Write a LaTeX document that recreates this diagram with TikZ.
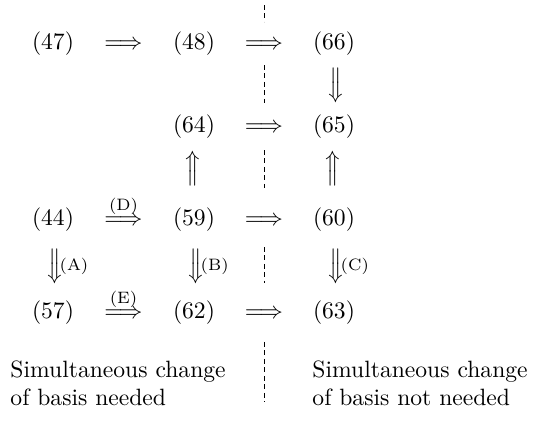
\documentclass[tikz,border=0pt]{standalone}
\usepackage{graphicx}
\begin{document}
\begin{tikzpicture}[x=0.4237pt,y=-0.4237pt,
  eq/.style={inner sep=0pt},
  harr/.style={inner sep=0pt,anchor=base},
  varr/.style={inner sep=0pt},
  lab/.style={inner sep=0.6pt,font=\scriptsize},
  sep/.style={dash pattern=on 2pt off 1.6pt,line width=0.4pt},
  txt/.style={inner sep=0pt,align=left,anchor=north west}]
\useasboundingbox (0,0) rectangle (546,424);
% equation nodes
\node[eq] (n47) at (53,44) {$(47)$};
\node[eq] (n48) at (194,44) {$(48)$};
\node[eq] (n66) at (334,44) {$(66)$};
\node[eq] (n64) at (194,127) {$(64)$};
\node[eq] (n65) at (334,127) {$(65)$};
\node[eq] (n44) at (53,220) {$(44)$};
\node[eq] (n59) at (194,220) {$(59)$};
\node[eq] (n60) at (334,220) {$(60)$};
\node[eq] (n57) at (53,313) {$(57)$};
\node[eq] (n62) at (194,313) {$(62)$};
\node[eq] (n63) at (334,313) {$(63)$};
% horizontal implications
\path (n47.base) -- node[harr] (a1) {$\Longrightarrow$} (n48.base);
\path (n48.base) -- node[harr] (a2) {$\Longrightarrow$} (n66.base);
\path (n64.base) -- node[harr] (a3) {$\Longrightarrow$} (n65.base);
\path (n44.base) -- node[harr,label={[lab]above:(D)}] (a4) {$\Longrightarrow$} (n59.base);
\path (n59.base) -- node[harr] (a5) {$\Longrightarrow$} (n60.base);
\path (n57.base) -- node[harr,label={[lab]above:(E)}] (a6) {$\Longrightarrow$} (n62.base);
\path (n62.base) -- node[harr] (a7) {$\Longrightarrow$} (n63.base);
% vertical implications
\path (n66) -- node[varr] (v1) {\rotatebox{-90}{$\Longrightarrow$}} (n65);
\path (n59) -- node[varr,pos=0.57] (v2) {\rotatebox{90}{$\Longrightarrow$}} (n64);
\path (n60) -- node[varr,pos=0.57] (v3) {\rotatebox{90}{$\Longrightarrow$}} (n65);
\path (n44) -- node[varr,label={[lab]east:(A)}] (v4) {\rotatebox{-90}{$\Longrightarrow$}} (n57);
\path (n59) -- node[varr,label={[lab]east:(B)}] (v5) {\rotatebox{-90}{$\Longrightarrow$}} (n62);
\path (n60) -- node[varr,label={[lab]east:(C)}] (v6) {\rotatebox{-90}{$\Longrightarrow$}} (n63);
% dashed separator
\draw[sep] (264,5) -- (264,22);
\draw[sep] (264,65) -- (264,103);
\draw[sep] (264,150) -- (264,188);
\draw[sep] (264,247) -- (264,283);
\draw[sep] (264,342) -- (264,402);
% captions
\node[txt] (tl) at (10,360) {Simultaneous change\\of basis needed};
\node[txt] (tr) at (312,360) {Simultaneous change\\of basis not needed};
\end{tikzpicture}
\end{document}
